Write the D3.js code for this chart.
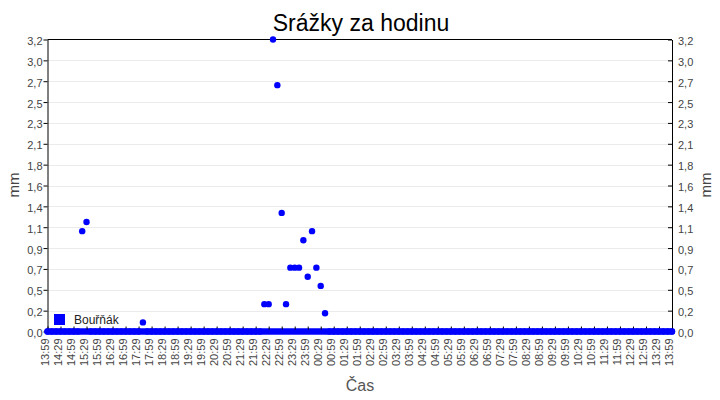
<!DOCTYPE html>
<html>
<head>
<meta charset="utf-8">
<script src="https://cdn.jsdelivr.net/npm/d3@7"></script>
<style>
  body { margin: 0; background: #fff; }
  svg { font-family: "Liberation Sans", Arial, sans-serif; }
</style>
</head>
<body>
<div id="chart"></div>
<script>
// hourly rain, one reading every 10 minutes from 13:59 to 13:59 next day
var startTime = new Date(2024, 5, 1, 13, 59);
var sampleStepMin = 10;
var tickStepMin = 30;
var seriesName = "Bouřňák";

var rain = [
	0, 0, 0, 0, 0, 0, 0, 0, 1.1, 1.2, 0, 0,          // 13:59 - 15:49
	0, 0, 0, 0, 0, 0, 0, 0, 0, 0, 0.1, 0,            // 15:59 - 17:49
	0, 0, 0, 0, 0, 0, 0, 0, 0, 0, 0, 0,              // 17:59 - 19:49
	0, 0, 0, 0, 0, 0, 0, 0, 0, 0, 0, 0,              // 19:59 - 21:49
	0, 0, 0.3, 0.3, 3.2, 2.7, 1.3, 0.3, 0.7, 0.7, 0.7, 1.0, // 21:59 - 23:49
	0.6, 1.1, 0.7, 0.5, 0.2, 0, 0, 0, 0, 0, 0, 0,    // 23:59 - 01:49
	0, 0, 0, 0, 0, 0, 0, 0, 0, 0, 0, 0,              // 01:59 - 03:49
	0, 0, 0, 0, 0, 0, 0, 0, 0, 0, 0, 0,              // 03:59 - 05:49
	0, 0, 0, 0, 0, 0, 0, 0, 0, 0, 0, 0,              // 05:59 - 07:49
	0, 0, 0, 0, 0, 0, 0, 0, 0, 0, 0, 0,              // 07:59 - 09:49
	0, 0, 0, 0, 0, 0, 0, 0, 0, 0, 0, 0,              // 09:59 - 11:49
	0, 0, 0, 0, 0, 0, 0, 0, 0, 0, 0, 0,              // 11:59 - 13:49
	0                                                // 13:59
];

var yMax = 3.2;
var yTickCount = 15;

var width = 720, height = 400;
var margin = { top: 39.5, right: 48, bottom: 68.5, left: 47.5 };

var svg = d3.select("#chart").append("svg")
	.attr("width", width)
	.attr("height", height);

var data = rain.map(function(v, i) {
	return { t: d3.timeMinute.offset(startTime, i * sampleStepMin), v: v };
});
var endTime = data[data.length - 1].t;

var x = d3.scaleTime()
	.domain([startTime, endTime])
	.range([margin.left, width - margin.right]);

var y = d3.scaleLinear()
	.domain([0, yMax])
	.range([height - margin.bottom, margin.top]);

var cz = d3.formatLocale({ decimal: ",", thousands: " ", grouping: [3], currency: ["", " Kč"] });
var fmtY = cz.format(".1f");
var yTicks = d3.range(yTickCount).map(function(k) { return yMax * k / (yTickCount - 1); });
var xTicks = d3.range(0, (endTime - startTime) / 60000 + 1, tickStepMin)
	.map(function(m) { return d3.timeMinute.offset(startTime, m); });

// grid lines
svg.append("g")
	.selectAll("line")
	.data(yTicks.slice(1, -1))
	.enter().append("line")
	.attr("x1", margin.left)
	.attr("x2", width - margin.right)
	.attr("y1", function(d) { return Math.round(y(d)) + 0.5; })
	.attr("y2", function(d) { return Math.round(y(d)) + 0.5; })
	.style("stroke", "#ebebeb");

// top border
svg.append("line")
	.attr("x1", margin.left).attr("x2", width - margin.right)
	.attr("y1", margin.top).attr("y2", margin.top)
	.style("stroke", "#000");

// left axis
var yLeft = svg.append("g")
	.attr("transform", "translate(" + margin.left + ",0)")
	.call(d3.axisLeft(y).tickValues(yTicks).tickFormat(fmtY).tickSize(4).tickSizeOuter(0));

// right axis
var yRight = svg.append("g")
	.attr("transform", "translate(" + (width - margin.right) + ",0)")
	.call(d3.axisRight(y).tickValues(yTicks).tickFormat(fmtY).tickSize(-4).tickSizeOuter(0));
yRight.selectAll(".tick text").attr("x", 6);

[yLeft, yRight].forEach(function(g) {
	g.select(".domain").style("stroke", "#000");
	g.selectAll(".tick line").style("stroke", "#000");
	g.selectAll(".tick text")
		.attr("dy", "0.45em")
		.style("font-size", "11px")
		.style("fill", "#444");
	g.attr("font-family", null);
});
yLeft.selectAll(".tick text").attr("x", -5);

// blue base band along zero (the series baseline)
svg.append("line")
	.attr("x1", x(startTime))
	.attr("x2", x(endTime))
	.attr("y1", y(0))
	.attr("y2", y(0))
	.style("stroke", "#0000ff")
	.style("stroke-width", 6.4)
	.style("stroke-linecap", "round");

// bottom axis
var xAxis = svg.append("g")
	.attr("transform", "translate(0," + (height - margin.bottom) + ")")
	.call(d3.axisBottom(x).tickValues(xTicks).tickFormat(d3.timeFormat("%H:%M")).tickSize(-5).tickSizeOuter(0));
xAxis.attr("font-family", null);
xAxis.select(".domain").remove();
xAxis.selectAll(".tick line").attr("y1", -2).attr("y2", -5).style("stroke", "#000");
xAxis.selectAll(".tick text")
	.attr("transform", "translate(0.5,7) rotate(-90)")
	.attr("x", 0)
	.attr("y", 0)
	.attr("dy", "0")
	.style("text-anchor", "end")
	.style("font-size", "11px")
	.style("fill", "#444");

// points
svg.append("g")
	.selectAll("circle")
	.data(data)
	.enter().append("circle")
	.attr("cx", function(d) { return x(d.t); })
	.attr("cy", function(d) { return y(d.v); })
	.attr("r", 3.2)
	.style("fill", "#0000ff");

// title
svg.append("text")
	.attr("x", 361)
	.attr("y", 30.5)
	.style("text-anchor", "middle")
	.style("font-size", "23px")
	.style("fill", "#000")
	.text("Srážky za hodinu");

// axis titles
svg.append("text")
	.attr("transform", "translate(19,185) rotate(-90)")
	.style("text-anchor", "middle")
	.style("font-size", "15px")
	.style("fill", "#444")
	.text("mm");

svg.append("text")
	.attr("transform", "translate(711,185) rotate(-90)")
	.style("text-anchor", "middle")
	.style("font-size", "15px")
	.style("fill", "#444")
	.text("mm");

svg.append("text")
	.attr("x", 360)
	.attr("y", 391)
	.style("text-anchor", "middle")
	.style("font-size", "16px")
	.style("fill", "#555")
	.text("Čas");

// legend
var legend = svg.append("g").attr("transform", "translate(54,314)");
legend.append("rect")
	.attr("width", 11).attr("height", 11)
	.style("fill", "#0000ff");
legend.append("text")
	.attr("x", 20)
	.attr("y", 9.5)
	.style("font-size", "12px")
	.style("fill", "#222")
	.text(seriesName);
</script>
</body>
</html>
